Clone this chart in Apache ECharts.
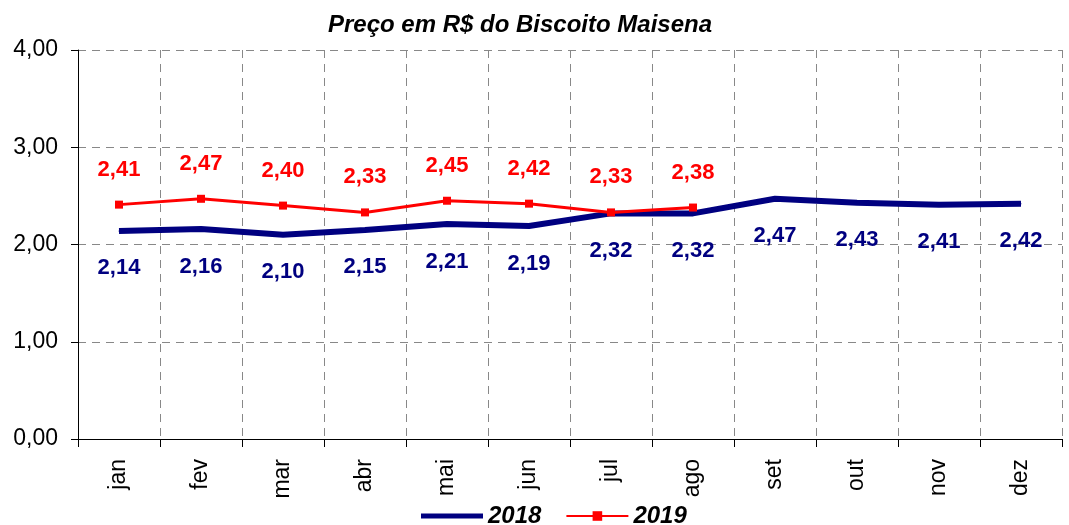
<!DOCTYPE html>
<html>
<head>
<meta charset="utf-8">
<script src="https://cdn.jsdelivr.net/npm/echarts@6/dist/echarts.min.js"></script>
<style>
html,body{margin:0;padding:0;background:#fff;}
#main{width:1069px;height:525px;}
</style>
</head>
<body>
<div id="main"></div>
<script>
var months = ['jan','fev','mar','abr','mai','jun','jul','ago','set','out','nov','dez'];
var price2018 = [2.14,2.16,2.10,2.15,2.21,2.19,2.32,2.32,2.47,2.43,2.41,2.42];
var price2019 = [2.41,2.47,2.40,2.33,2.45,2.42,2.33,2.38];
var yTicks = [0,1,2,3,4];

function fmt(v){ return v.toFixed(2).replace('.', ','); }

var chart = echarts.init(document.getElementById('main'));
var option = {
    backgroundColor:'#fff',
    animation:false,
    textStyle:{fontFamily:'Liberation Sans, Arial, sans-serif'},
    title:{
        text:'Preço em R$ do Biscoito Maisena',
        left:515, top:8, textAlign:'center',
        textStyle:{fontSize:24, fontWeight:'bold', fontStyle:'italic', color:'#000'}
    },
    legend:{
        bottom:-8, left:416, itemWidth:62, itemHeight:12, itemGap:24,
        textStyle:{fontSize:24, fontWeight:'bold', fontStyle:'italic', color:'#000'},
        data:[
            {name:'2018', icon:'path://M0,3 L60,3 L60,8 L0,8 Z'},
            {name:'2019'}
        ]
    },
    grid:{left:78, right:7, top:50, bottom:86},
    xAxis:{
        type:'category',
        data:months,
        boundaryGap:true,
        axisLine:{lineStyle:{color:'#000', width:1}},
        axisTick:{show:true, length:8, lineStyle:{color:'#000'}},
        axisLabel:{rotate:90, margin:20, fontSize:23, color:'#000'},
        splitLine:{show:true, interval:0, lineStyle:{color:'#888', type:[8,6], width:1}}
    },
    yAxis:{
        type:'value', min:yTicks[0], max:yTicks[yTicks.length-1], interval:1,
        axisLine:{show:true, lineStyle:{color:'#000'}},
        axisTick:{show:true, inside:false, length:7, lineStyle:{color:'#000'}},
        axisLabel:{fontSize:23, color:'#000', margin:20, formatter:function(v){return fmt(v);}},
        splitLine:{show:true, lineStyle:{color:'#888', type:[8,6], width:1}}
    },
    series:[
        {
            name:'2018', type:'line', data:price2018,
            symbol:'circle', symbolSize:1, showSymbol:true,
            lineStyle:{color:'#000080', width:6},
            itemStyle:{color:'#000080'},
            labelLayout:{hideOverlap:false},
            label:{show:true, position:'bottom', distance:26, fontSize:22, fontWeight:'bold', color:'#000080',
                formatter:function(p){return fmt(p.value);}}
        },
        {
            name:'2019', type:'line', data:price2019,
            symbol:'rect', symbolSize:8,
            lineStyle:{color:'#ff0000', width:3},
            itemStyle:{color:'#ff0000'},
            label:{show:true, position:'top', distance:20, fontSize:22, fontWeight:'bold', color:'#ff0000',
                formatter:function(p){return fmt(p.value);}}
        }
    ]
};
chart.setOption(option);
</script>
</body>
</html>
